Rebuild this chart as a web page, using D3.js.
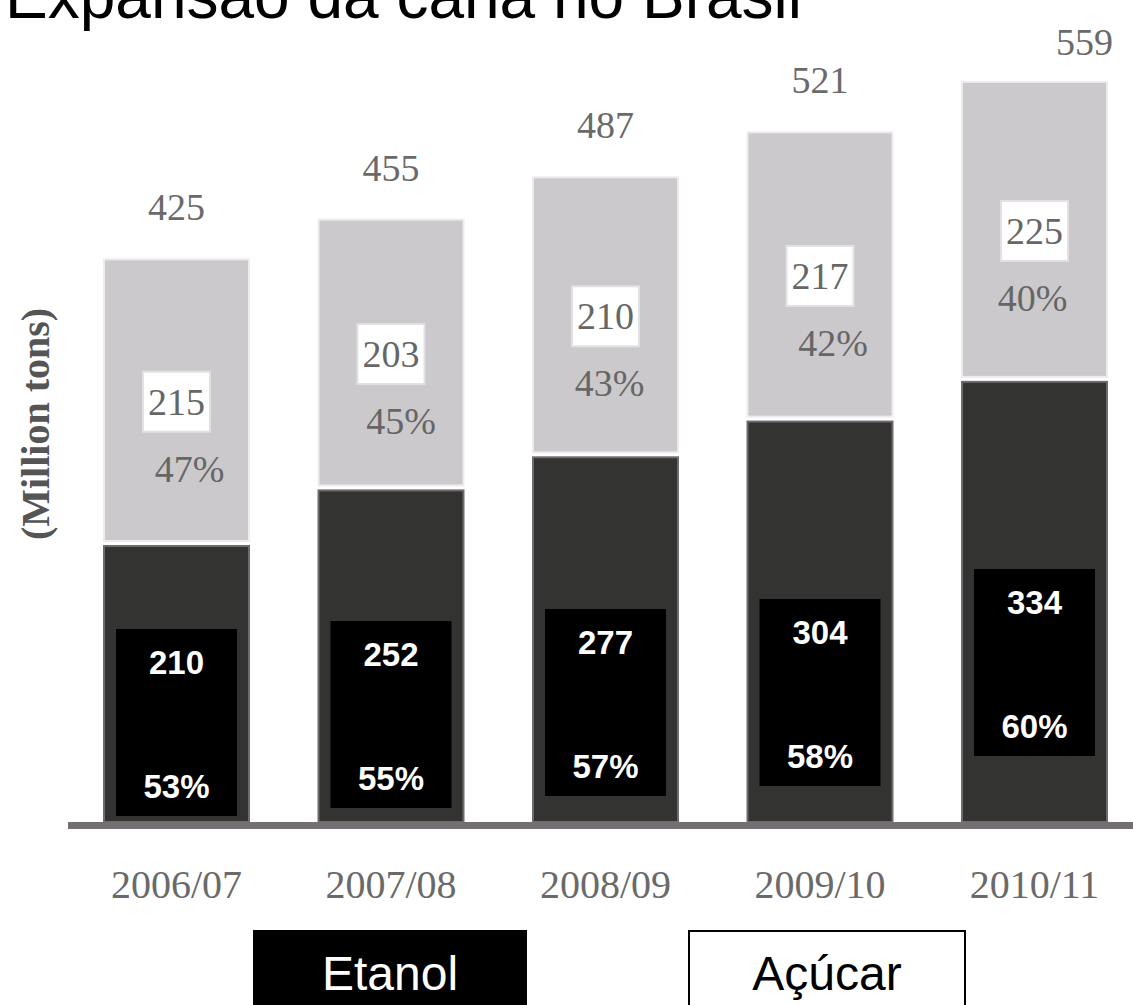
<!DOCTYPE html>
<html>
<head>
<meta charset="utf-8">
<script src="https://cdn.jsdelivr.net/npm/d3@7"></script>
<style>
  body { margin: 0; background: #fff; }
  svg { display: block; }
</style>
</head>
<body>
<div id="chart"></div>
<script>
// values (million tons)
const seasons = ['2006/07', '2007/08', '2008/09', '2009/10', '2010/11'];
const etanol = [210, 252, 277, 304, 334];
const acucar = [215, 203, 210, 217, 225];
const totals = [425, 455, 487, 521, 559];
const etanolPct = ['53%', '55%', '57%', '58%', '60%'];
const acucarPct = ['47%', '45%', '43%', '42%', '40%'];

// label nudges (layout only)
const etanolBoxLift = [6, 14, 26, 36, 66];
const acucarPctDx = [13, 10, 4, 13, -2];
const totalDx = [0, 0, 0, 0, 50];
const totalDy = [0, 0, 0, 0, 12];

const width = 1133;
const height = 1005;
const baseline = 822;
const serif = '"Liberation Serif", "Times New Roman", serif';
const sans = '"Liberation Sans", Arial, sans-serif';

const rows = seasons.map((s, i) => ({
    season: s, i,
    etanol: etanol[i], acucar: acucar[i], total: totals[i],
    ePct: etanolPct[i], aPct: acucarPct[i]
}));

const x = d3.scaleBand()
    .domain(seasons)
    .range([104, 1107])
    .paddingInner(0.324)
    .paddingOuter(0);

const y = d3.scaleLinear()
    .domain([0, d3.max(totals)])
    .range([baseline, 82]);

const svg = d3.select('#chart')
    .append('svg')
    .attr('width', width)
    .attr('height', height);

// title (cut off at the top like the original slide)
svg.append('text')
    .attr('x', 5)
    .attr('y', 18)
    .style('font-family', sans)
    .style('font-size', '64px')
    .attr('fill', '#000')
    .text('Expansão da cana no Brasil');

// y axis title
svg.append('text')
    .attr('transform', `translate(49, 424) rotate(-90)`)
    .attr('text-anchor', 'middle')
    .style('font-family', serif)
    .style('font-size', '40px')
    .style('font-weight', 700)
    .attr('fill', '#555')
    .text('(Million tons)');

const bars = svg.append('g').attr('class', 'bars');

// sugar (top, light grey)
bars.selectAll('.acucar')
    .data(rows)
    .join('rect')
    .attr('class', 'acucar')
    .attr('x', d => x(d.season))
    .attr('y', d => y(d.total))
    .attr('width', x.bandwidth())
    .attr('height', d => y(d.etanol) - y(d.total) - 3)
    .attr('fill', '#cbc9cc')
    .attr('stroke', '#eeeaee')
    .attr('stroke-width', 2);

// ethanol (bottom, dark)
bars.selectAll('.etanol')
    .data(rows)
    .join('rect')
    .attr('class', 'etanol')
    .attr('x', d => x(d.season))
    .attr('y', d => y(d.etanol) + 2)
    .attr('width', x.bandwidth())
    .attr('height', d => baseline - y(d.etanol) - 2)
    .attr('fill', '#333431')
    .attr('stroke', '#6f6a6e')
    .attr('stroke-width', 2);

// baseline
svg.append('rect')
    .attr('x', 68)
    .attr('y', baseline)
    .attr('width', width - 68)
    .attr('height', 7)
    .attr('fill', '#736f73');

// black label boxes on ethanol
const boxW = 121, boxH = 187;
const eLab = svg.append('g').attr('class', 'etanol-labels');
eLab.selectAll('rect')
    .data(rows)
    .join('rect')
    .attr('x', d => x(d.season) + x.bandwidth() / 2 - boxW / 2)
    .attr('y', d => baseline - etanolBoxLift[d.i] - boxH)
    .attr('width', boxW)
    .attr('height', boxH)
    .attr('fill', '#000');

eLab.selectAll('.val')
    .data(rows)
    .join('text')
    .attr('class', 'val')
    .attr('x', d => x(d.season) + x.bandwidth() / 2)
    .attr('y', d => baseline - etanolBoxLift[d.i] - boxH + 45)
    .attr('text-anchor', 'middle')
    .style('font-family', sans)
    .style('font-size', '33px')
    .style('font-weight', 700)
    .attr('fill', '#fff')
    .text(d => d.etanol);

eLab.selectAll('.pct')
    .data(rows)
    .join('text')
    .attr('class', 'pct')
    .attr('x', d => x(d.season) + x.bandwidth() / 2)
    .attr('y', d => baseline - etanolBoxLift[d.i] - 18)
    .attr('text-anchor', 'middle')
    .style('font-family', sans)
    .style('font-size', '33px')
    .style('font-weight', 700)
    .attr('fill', '#fff')
    .text(d => d.ePct);

// sugar labels: white value box centred in the segment, share below
const aLab = svg.append('g').attr('class', 'acucar-labels');
const mid = d => (y(d.total) + y(d.etanol)) / 2;
const sBoxW = 67, sBoxH = 60;

aLab.selectAll('rect')
    .data(rows)
    .join('rect')
    .attr('x', d => x(d.season) + x.bandwidth() / 2 - sBoxW / 2)
    .attr('y', d => mid(d) - sBoxH / 2)
    .attr('width', sBoxW)
    .attr('height', sBoxH)
    .attr('fill', '#fff')
    .attr('stroke', '#e2e0e4')
    .attr('stroke-width', 2);

aLab.selectAll('.val')
    .data(rows)
    .join('text')
    .attr('class', 'val')
    .attr('x', d => x(d.season) + x.bandwidth() / 2)
    .attr('y', d => mid(d) + 13)
    .attr('text-anchor', 'middle')
    .style('font-family', serif)
    .style('font-size', '38px')
    .attr('fill', '#666')
    .text(d => d.acucar);

aLab.selectAll('.pct')
    .data(rows)
    .join('text')
    .attr('class', 'pct')
    .attr('x', d => x(d.season) + x.bandwidth() / 2 + acucarPctDx[d.i])
    .attr('y', d => mid(d) + 80)
    .attr('text-anchor', 'middle')
    .style('font-family', serif)
    .style('font-size', '38px')
    .attr('fill', '#666')
    .text(d => d.aPct);

// totals above bars
svg.append('g').selectAll('text')
    .data(rows)
    .join('text')
    .attr('x', d => x(d.season) + x.bandwidth() / 2 + totalDx[d.i])
    .attr('y', d => y(d.total) - 39 + totalDy[d.i])
    .attr('text-anchor', 'middle')
    .style('font-family', serif)
    .style('font-size', '38px')
    .attr('fill', '#6a6a6a')
    .text(d => d.total);

// category labels
svg.append('g').selectAll('text')
    .data(rows)
    .join('text')
    .attr('x', d => x(d.season) + x.bandwidth() / 2)
    .attr('y', 898)
    .attr('text-anchor', 'middle')
    .style('font-family', serif)
    .style('font-size', '40px')
    .attr('fill', '#6a6a6a')
    .text(d => d.season);

// legend
const legend = svg.append('g').attr('class', 'legend');
legend.append('rect')
    .attr('x', 253).attr('y', 930)
    .attr('width', 274).attr('height', 80)
    .attr('fill', '#000');
legend.append('text')
    .attr('x', 390).attr('y', 990)
    .attr('text-anchor', 'middle')
    .style('font-family', sans)
    .style('font-size', '48px')
    .attr('fill', '#fff')
    .text('Etanol');
legend.append('rect')
    .attr('x', 689).attr('y', 931)
    .attr('width', 276).attr('height', 80)
    .attr('fill', '#fff')
    .attr('stroke', '#000')
    .attr('stroke-width', 2);
legend.append('text')
    .attr('x', 827).attr('y', 990)
    .attr('text-anchor', 'middle')
    .style('font-family', sans)
    .style('font-size', '48px')
    .attr('fill', '#000')
    .text('Açúcar');
</script>
</body>
</html>
